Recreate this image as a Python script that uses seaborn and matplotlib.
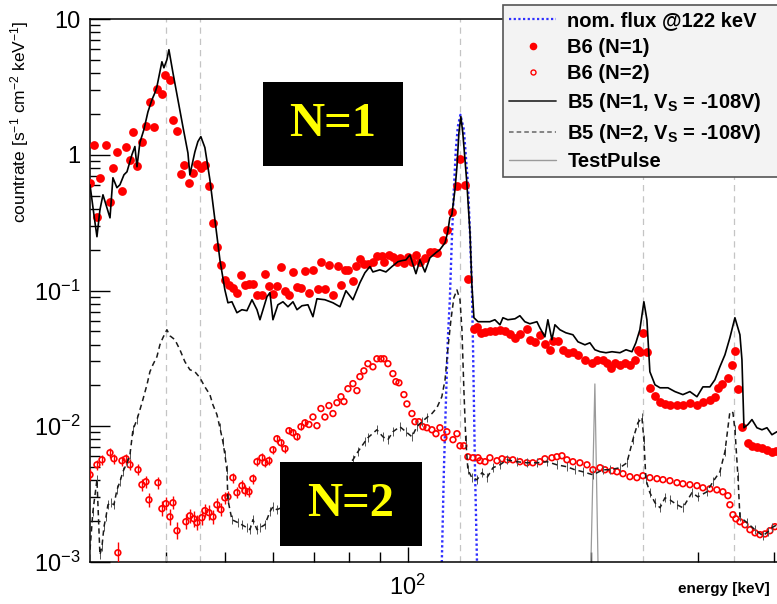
import numpy as np
import pandas as pd
import matplotlib
matplotlib.use("Agg")
import matplotlib.pyplot as plt
import seaborn as sns
from matplotlib.lines import Line2D
from matplotlib.patches import Rectangle
from matplotlib.ticker import FixedLocator, FixedFormatter, NullFormatter, LogLocator

# ---------------------------------------------------------------- data
# Nominal source flux at 122 keV
flux_energy = [113.2, 113.7, 114.6, 115.5, 116.3, 117.2, 118.1, 119.0, 119.9, 120.8,
               122.0, 123.6, 125.0, 125.5, 126.5, 127.4, 127.9, 128.9, 129.9, 130.4]
flux_rate = [0.0006, 0.001, 0.0048, 0.0157, 0.0434, 0.0855, 0.237, 0.552, 1.09, 1.61,
             1.97, 1.53, 0.775, 0.622, 0.266, 0.107, 0.0434, 0.005, 0.001, 0.0006]

# B6, single-pixel events (N=1)
b6_n1_energy = [30.0, 30.45, 30.8, 31.15, 31.87, 32.36, 32.72, 33.22, 33.86, 34.38,
                34.9, 35.3, 35.84, 36.52, 37.08, 37.64, 38.22, 38.65, 39.39, 39.84,
                40.6, 41.07, 41.7, 42.33, 42.81, 43.63, 44.29, 44.97, 45.65, 46.35,
                47.06, 47.78, 48.51, 49.25, 50.0, 50.77, 51.54, 52.33, 53.13, 53.94,
                54.77, 55.61, 56.46, 57.53, 58.18, 59.07, 59.98, 60.89, 61.82, 62.77,
                63.73, 64.71, 65.7, 66.7, 67.71, 68.74, 69.79, 71.12, 71.93, 73.03,
                74.14, 75.28, 76.72, 77.6, 78.78, 79.68, 81.2, 82.12, 83.37, 84.64,
                85.93, 87.58, 88.92, 90.62, 91.31, 93.07, 94.47, 95.92, 97.01, 98.49,
                100.0, 101.53, 103.08, 104.65, 106.65, 108.69, 110.35, 111.61, 114.1, 115.9,
                118.1, 120.4, 121.8, 124.1, 125.5, 128.4, 129.9, 131.9, 133.9, 136.4,
                139.0, 141.7, 144.4, 147.2, 150.0, 152.8, 156.9, 158.7, 161.7, 164.8,
                168.0, 171.2, 173.2, 176.5, 179.8, 183.3, 186.8, 190.4, 195.5, 200.7,
                204.6, 209.3, 212.5, 215.8, 219.1, 223.2, 227.5, 231.8, 236.2, 238.9,
                240.7, 243.5, 247.2, 250.0, 254.9, 259.8, 264.7, 269.7, 277.0, 283.3,
                290.9, 298.8, 305.6, 313.8, 319.8, 323.5, 328.4, 336.0, 341.1, 345.0,
                349.0, 354.3, 362.4, 368.0, 375.0, 382.2, 389.5, 396.9, 403.0]
b6_n1_rate = [0.622, 1.18, 0.349, 0.677, 1.18, 0.450, 0.802, 1.05, 0.543, 1.15,
              0.919, 1.48, 0.830, 1.25, 1.64, 2.46, 1.61, 3.06, 2.81, 3.88,
              3.57, 1.81, 1.50, 0.725, 0.844, 0.622, 0.737, 0.858, 0.802, 0.844,
              0.591, 0.316, 0.210, 0.155, 0.120, 0.110, 0.105, 0.0963, 0.131, 0.110,
              0.112, 0.112, 0.093, 0.093, 0.133, 0.108, 0.0946, 0.108, 0.150, 0.0996,
              0.093, 0.137, 0.107, 0.105, 0.140, 0.0963, 0.142, 0.103, 0.163, 0.103,
              0.155, 0.093, 0.152, 0.110, 0.142, 0.142, 0.118, 0.152, 0.171, 0.157,
              0.157, 0.163, 0.180, 0.180, 0.163, 0.183, 0.177, 0.163, 0.174, 0.160,
              0.177, 0.163, 0.183, 0.163, 0.174, 0.193, 0.193, 0.190, 0.237, 0.280,
              0.380, 0.591, 0.934, 0.601, 0.122, 0.0523, 0.0541, 0.0488, 0.0497, 0.0505,
              0.0505, 0.0514, 0.0505, 0.0480, 0.0449, 0.0480, 0.0523, 0.0434, 0.0419, 0.0472,
              0.0405, 0.0366, 0.0426, 0.0426, 0.0366, 0.0348, 0.0354, 0.0336, 0.0309, 0.0294,
              0.0309, 0.0309, 0.0294, 0.0270, 0.0294, 0.0284, 0.0294, 0.0284, 0.0309, 0.0366,
              0.0354, 0.0488, 0.0354, 0.0192, 0.0168, 0.0152, 0.0146, 0.0144, 0.0144, 0.0144,
              0.0149, 0.0144, 0.0152, 0.0157, 0.0165, 0.0192, 0.0206, 0.0228, 0.0284, 0.0360,
              0.0187, 0.00992, 0.00756, 0.0072, 0.00706, 0.0069, 0.00671, 0.00649, 0.0066]

# B6, two-pixel events (N=2)
b6_n2_energy = [30.0, 30.8, 31.39, 32.36, 32.85, 33.34, 33.86, 34.38, 34.9, 35.98,
                36.52, 37.08, 37.5, 38.8, 39.39, 39.99, 40.6, 41.07, 41.7, 43.13,
                43.79, 44.46, 44.97, 45.83, 46.35, 47.06, 47.78, 48.51, 49.25, 50.0,
                50.58, 51.54, 52.33, 53.33, 53.94, 54.77, 55.61, 56.46, 57.53, 58.18,
                59.07, 59.98, 60.89, 61.82, 62.77, 63.73, 64.71, 65.7, 66.7, 67.71,
                68.74, 69.79, 70.85, 71.93, 73.03, 74.14, 75.28, 76.43, 77.6, 78.49,
                79.68, 81.2, 82.43, 83.37, 84.64, 85.93, 87.58, 88.92, 90.28, 91.31,
                92.7, 94.47, 95.56, 96.65, 98.49, 99.62, 101.53, 102.69, 104.25, 105.85,
                107.45, 109.51, 111.19, 112.88, 114.6, 115.9, 118.6, 120.4, 121.8, 123.6,
                125.5, 127.9, 130.4, 131.4, 133.9, 136.4, 140.1, 142.8, 145.5, 148.8,
                152.8, 156.9, 160.5, 164.8, 168.0, 172.5, 175.8, 179.2, 182.6, 186.8,
                191.8, 197.0, 201.5, 207.0, 210.9, 216.6, 220.7, 225.8, 231.8, 238.0,
                243.5, 250.0, 256.8, 262.7, 269.7, 277.0, 283.3, 290.9, 298.8, 305.6,
                313.8, 322.2, 329.6, 336.0, 338.5, 342.4, 346.3, 351.6, 358.4, 365.2,
                372.2, 379.3, 386.6, 393.9, 401.4]
b6_n2_rate = [0.00439, 0.0052, 0.00566, 0.00638, 0.00576, 0.00117, 0.00557, 0.00576, 0.0052, 0.00478,
              0.00371, 0.0039, 0.00287, 0.00384, 0.00247, 0.00269, 0.00215, 0.00273, 0.0017, 0.00198,
              0.00219, 0.00208, 0.00195, 0.00212, 0.00239, 0.00231, 0.00215, 0.00264, 0.00243, 0.00297,
              0.00302, 0.00418, 0.00324, 0.00365, 0.00335, 0.00329, 0.00411, 0.00548, 0.00586, 0.00538,
              0.00557, 0.00671, 0.00809, 0.00756, 0.00683, 0.00927, 0.00896, 0.00837, 0.00992, 0.0106,
              0.0103, 0.0117, 0.0101, 0.0135, 0.0117, 0.0142, 0.0124, 0.0149, 0.0165, 0.0152,
              0.0189, 0.0206, 0.0183, 0.0232, 0.0256, 0.0289, 0.0274, 0.0314, 0.0314, 0.0314,
              0.0289, 0.0244, 0.0213, 0.0209, 0.0171, 0.0146, 0.0124, 0.0108, 0.0108, 0.00992,
              0.00975, 0.00942, 0.00881, 0.00975, 0.00823, 0.00911, 0.00796, 0.00881, 0.00718, 0.00718,
              0.00596, 0.00586, 0.00586, 0.00557, 0.00548, 0.00586, 0.00557, 0.00576, 0.00566, 0.00566,
              0.00548, 0.00538, 0.00538, 0.00548, 0.00576, 0.00586, 0.00596, 0.00606, 0.00566, 0.00548,
              0.00538, 0.0052, 0.00478, 0.00495, 0.00478, 0.0047, 0.00462, 0.00447, 0.00425, 0.00418,
              0.00432, 0.00418, 0.00411, 0.00404, 0.00397, 0.00384, 0.00377, 0.00371, 0.00365, 0.00352,
              0.00346, 0.0034, 0.00329, 0.00308, 0.00264, 0.00223, 0.00208, 0.00198, 0.00188, 0.00173,
              0.00164, 0.00159, 0.00161, 0.0017, 0.00182]
# relative uncertainties of the first (low-statistics) N=2 points
b6_n2_relerr = [0.10, 0.09, 0.09, 0.09, 0.09, 0.20, 0.09, 0.09, 0.10, 0.10,
                0.11, 0.11, 0.13, 0.11, 0.13, 0.12, 0.14, 0.12, 0.15, 0.14,
                0.13, 0.14, 0.14, 0.13, 0.12, 0.13, 0.13, 0.12, 0.12, 0.11,
                0.11, 0.09, 0.10, 0.10, 0.10, 0.10, 0.09, 0.08, 0.08, 0.08,
                0.08, 0.07, 0.07, 0.07, 0.07, 0.06, 0.06, 0.06, 0.06, 0.06]

# B5 at V_S = -108 V, single-pixel events (N=1)
b5_n1_energy = [30.0, 30.45, 30.8, 31.15, 31.51, 31.87, 32.36, 32.72, 33.22, 33.6,
                34.12, 34.51, 35.16, 35.56, 35.84, 36.24, 36.79, 37.36, 37.93, 38.36,
                38.65, 39.09, 39.39, 39.69, 40.14, 40.45, 41.07, 41.85, 42.65, 43.47,
                43.79, 44.63, 45.14, 45.65, 46.35, 47.24, 48.14, 49.07, 50.0, 50.58,
                51.35, 52.33, 53.33, 54.35, 55.4, 56.46, 57.1, 58.63, 59.3, 59.98,
                61.12, 62.3, 63.49, 64.71, 65.7, 66.95, 68.48, 69.79, 70.85, 73.03,
                75.28, 77.3, 79.08, 81.2, 83.37, 84.96, 86.59, 87.58, 89.93, 92.01,
                94.12, 96.29, 97.75, 99.24, 100.76, 103.08, 104.65, 106.65, 108.69, 111.19,
                112.88, 115.1, 116.3, 117.2, 118.1, 119.5, 120.4, 121.3, 122.2, 123.1,
                125.0, 126.5, 127.4, 128.4, 130.4, 133.9, 136.4, 139.0, 141.7, 143.3,
                146.0, 150.0, 152.8, 155.7, 158.7, 163.0, 164.8, 168.0, 169.9, 172.5,
                174.5, 177.8, 181.9, 186.8, 190.4, 195.5, 199.2, 203.0, 207.0, 211.7,
                216.6, 223.2, 228.4, 233.6, 237.1, 240.7, 244.4, 247.2, 250.0, 254.9,
                259.8, 267.7, 274.9, 283.3, 290.9, 298.8, 305.6, 313.8, 319.8, 325.9,
                332.2, 338.5, 345.0, 351.6, 354.3, 357.0, 362.4, 368.0, 375.0, 382.2,
                389.5, 396.9, 404.5]
b5_n1_rate = [0.601, 0.361, 0.249, 0.393, 0.507, 0.428, 0.343, 0.677, 0.572, 0.601,
              0.712, 0.749, 1.0, 1.15, 0.816, 1.23, 1.53, 2.07, 2.54, 2.86,
              3.17, 4.09, 4.84, 4.37, 5.01, 5.94, 4.02, 2.54, 1.61, 1.03,
              0.712, 1.05, 1.25, 1.36, 1.13, 0.655, 0.332, 0.168, 0.101, 0.0812,
              0.0826, 0.0686, 0.0722, 0.0710, 0.0855, 0.0722, 0.0609, 0.0899, 0.0963, 0.0609,
              0.0785, 0.0826, 0.0759, 0.0826, 0.0722, 0.0772, 0.0785, 0.0641, 0.0869, 0.0855,
              0.0812, 0.0759, 0.0996, 0.0855, 0.114, 0.135, 0.150, 0.137, 0.142, 0.137,
              0.150, 0.163, 0.166, 0.168, 0.183, 0.133, 0.168, 0.137, 0.174, 0.190,
              0.200, 0.225, 0.271, 0.343, 0.361, 0.552, 0.816, 1.45, 1.91, 1.45,
              0.622, 0.266, 0.110, 0.063, 0.0589, 0.0589, 0.0589, 0.0609, 0.0559, 0.063,
              0.0609, 0.0619, 0.0652, 0.0589, 0.0569, 0.0589, 0.0532, 0.0456, 0.0609, 0.0434,
              0.0559, 0.0514, 0.0488, 0.0472, 0.0419, 0.0398, 0.0412, 0.0366, 0.0354, 0.0348,
              0.0354, 0.0348, 0.0366, 0.0354, 0.0412, 0.0514, 0.0826, 0.0609, 0.0252, 0.0202,
              0.0192, 0.0192, 0.018, 0.0171, 0.018, 0.0165, 0.0195, 0.0195, 0.022, 0.0274,
              0.0336, 0.0449, 0.063, 0.0472, 0.0309, 0.00975, 0.0103, 0.0112, 0.00975, 0.00942,
              0.00975, 0.00866, 0.00911]

# B5 at V_S = -108 V, two-pixel events (N=2)
b5_n2_energy = [30.0, 30.33, 30.8, 31.15, 31.39, 31.63, 31.87, 32.11, 32.48, 32.85,
                33.22, 33.6, 33.98, 34.51, 34.9, 35.3, 35.84, 36.24, 36.65, 37.22,
                37.64, 38.07, 38.65, 39.09, 39.54, 40.14, 40.6, 41.38, 42.17, 42.97,
                43.79, 44.63, 45.48, 46.35, 47.24, 47.78, 48.51, 49.07, 49.63, 50.0,
                50.38, 50.58, 51.35, 52.53, 53.33, 54.35, 54.98, 55.61, 56.46, 57.1,
                58.18, 59.3, 59.98, 60.89, 66.45, 74.43, 81.2, 82.74, 84.96, 85.93,
                88.92, 90.96, 92.7, 94.47, 97.01, 99.24, 101.53, 103.46, 105.44, 107.45,
                109.51, 111.61, 113.7, 115.1, 116.3, 117.7, 119.0, 120.4, 121.8, 122.7,
                123.6, 124.5, 125.5, 127.4, 129.9, 132.4, 134.9, 138.0, 141.7, 145.5,
                151.1, 156.9, 163.0, 169.3, 175.8, 182.6, 188.2, 194.0, 201.5, 209.3,
                214.9, 223.2, 229.2, 234.4, 238.9, 242.6, 244.4, 246.3, 250.0, 254.9,
                259.8, 264.7, 269.7, 277.0, 283.3, 293.2, 299.9, 310.3, 317.4, 325.9,
                332.2, 338.5, 342.4, 345.0, 349.0, 351.6, 361.1, 372.2, 383.6, 390.9,
                396.9, 404.5]
b5_n2_rate = [0.00123, 0.00235, 0.00404, 0.00113, 0.0013, 0.00182, 0.00215, 0.00264, 0.00273, 0.00264,
              0.0034, 0.0039, 0.00462, 0.00538, 0.00617, 0.00942, 0.0112, 0.0132, 0.0157, 0.0202,
              0.0252, 0.0284, 0.0325, 0.0398, 0.0449, 0.0514, 0.0464, 0.0434, 0.0366, 0.0299,
              0.0261, 0.0252, 0.0228, 0.0195, 0.0171, 0.0144, 0.0122, 0.00975, 0.00769, 0.00617,
              0.00478, 0.00287, 0.00205, 0.00195, 0.00188, 0.00179, 0.00173, 0.00205, 0.00173, 0.00179,
              0.00188, 0.00235, 0.00255, 0.00243, 0.00287, 0.00404, 0.00566, 0.00649, 0.00769, 0.00823,
              0.00942, 0.00837, 0.00796, 0.00911, 0.00992, 0.00911, 0.00837, 0.00992, 0.0108, 0.0116,
              0.0124, 0.0137, 0.0165, 0.022, 0.0366, 0.0609, 0.0884, 0.101, 0.0855, 0.0514,
              0.0187, 0.00796, 0.00478, 0.00418, 0.00404, 0.00455, 0.00418, 0.00495, 0.0052, 0.00566,
              0.00548, 0.00538, 0.00538, 0.00548, 0.0052, 0.00503, 0.00478, 0.00462, 0.00439, 0.00478,
              0.00478, 0.00495, 0.00538, 0.00796, 0.0106, 0.0116, 0.00796, 0.00404, 0.00324, 0.00273,
              0.00251, 0.00297, 0.00287, 0.00264, 0.00251, 0.00324, 0.00302, 0.00329, 0.0039, 0.00462,
              0.00649, 0.0128, 0.0126, 0.00942, 0.00425, 0.00215, 0.00195, 0.00173, 0.00156, 0.00167,
              0.00179, 0.00188]
b5_n2_relerr = 0.08

# Test pulse
pulse_energy = [198.5, 200.0, 203.0, 205.4, 207.0]
pulse_rate = [0.0003, 0.001, 0.0205, 0.001, 0.0003]

# Eu-152 / Sm X-ray line positions
line_energy = [40.0, 45.5, 122.0, 243.5, 344.0]

y_ticks = [1e-3, 1e-2, 1e-1, 1, 10]
y_ticklabels = ["$10^{-3}$", "$10^{-2}$", "$10^{-1}$", "1", "10"]
x_ticks = [100]
x_ticklabels = ["$10^{2}$"]
x_minor = [40, 50, 60, 70, 80, 90, 200, 300, 400]

# ---------------------------------------------------------------- style
sns.set_theme(style="white")
plt.rcParams.update({
    "font.family": ["Liberation Sans", "DejaVu Sans"],
    "mathtext.fontset": "custom",
    "mathtext.rm": "Liberation Sans",
    "mathtext.it": "Liberation Sans:italic",
    "mathtext.bf": "Liberation Sans:bold",
    "axes.edgecolor": "black",
    "axes.linewidth": 1.1,
    "text.color": "black",
    "xtick.color": "black",
    "ytick.color": "black",
})

W, H = 777, 604
fig = plt.figure(figsize=(W / 100, H / 100), dpi=100)
ax = fig.add_axes([90 / W, 42 / H, 690.5 / W, 543 / H])
ax.set_xscale("log")
ax.set_yscale("log")

for e in line_energy:
    ax.axvline(e, color="#c4c4c4", lw=0.9, ls=(0, (5, 4)), zorder=1)

sns.lineplot(x=flux_energy, y=flux_rate, sort=False, estimator=None, ax=ax,
             color="#2f2fff", lw=1.7, linestyle=(0, (1, 1.1)), zorder=2)

sns.lineplot(x=pulse_energy, y=pulse_rate, sort=False, estimator=None, ax=ax,
             color="#9a9a9a", lw=0.9, zorder=2)

# B6 N=1 filled dots
sns.scatterplot(x=b6_n1_energy, y=b6_n1_rate, ax=ax, color="#ff0000", s=40,
                linewidth=0, marker="o", zorder=4)

# B6 N=2 open circles with error bars
e2 = np.array(b6_n2_energy)
r2 = np.array(b6_n2_rate)
n_err = len(b6_n2_relerr)
rel = np.array(b6_n2_relerr)
lo = r2[:n_err] - r2[:n_err] / (1 + rel)
hi = r2[:n_err] * rel
ax.errorbar(e2[:n_err], r2[:n_err], yerr=[lo, hi], fmt="none",
            ecolor="#ff0000", elinewidth=1.0, capsize=0, zorder=4)
sns.scatterplot(x=b6_n2_energy, y=b6_n2_rate, ax=ax, color="#ff0000", s=17,
                marker="o", zorder=5)
coll = ax.collections[-1]
coll.set_facecolor("none")
coll.set_edgecolor("#ff0000")
coll.set_linewidth(1.2)

# B5 spectra
sns.lineplot(x=b5_n1_energy, y=b5_n1_rate, sort=False, estimator=None, ax=ax,
             color="black", lw=1.2, zorder=6)

e5 = np.array(b5_n2_energy)
r5 = np.array(b5_n2_rate)
low = r5 < 0.012
ax.errorbar(e5[low], r5[low],
            yerr=[r5[low] - r5[low] / (1 + b5_n2_relerr), r5[low] * b5_n2_relerr],
            fmt="none", ecolor="#555555", elinewidth=0.7, capsize=0, zorder=5)
sns.lineplot(x=b5_n2_energy, y=b5_n2_rate, sort=False, estimator=None, ax=ax,
             color="#1a1a1a", lw=1.1, linestyle=(0, (3.5, 2.5)), zorder=6)

ax.set_xlim(30, 410)
ax.set_ylim(1e-3, 10)
if ax.get_legend() is not None:
    ax.get_legend().remove()
ax.set_xlabel("")
ax.set_ylabel("")

# ---------------------------------------------------------------- axes
ax.yaxis.set_major_locator(FixedLocator(y_ticks))
ax.yaxis.set_major_formatter(FixedFormatter(y_ticklabels))
ax.yaxis.set_minor_locator(LogLocator(base=10, subs=np.arange(2, 10)))
ax.yaxis.set_minor_formatter(NullFormatter())
ax.xaxis.set_major_locator(FixedLocator(x_ticks))
ax.xaxis.set_major_formatter(FixedFormatter(x_ticklabels))
ax.xaxis.set_minor_locator(FixedLocator(x_minor))
ax.xaxis.set_minor_formatter(NullFormatter())

ax.tick_params(which="both", direction="in", top=False, right=False,
               bottom=True, left=True)
ax.tick_params(axis="y", which="major", length=14.5, width=1.0, pad=7, labelsize=17)
ax.tick_params(axis="y", which="minor", length=7.2, width=1.0)
ax.tick_params(axis="x", which="major", length=10.5, width=1.0, pad=9, labelsize=17)
ax.tick_params(axis="x", which="minor", length=7.2, width=1.0)

fig.text(20 / W, 1 - 20 / H, r"countrate [s$^{-1}$ cm$^{-2}$ keV$^{-1}$]",
         rotation=90, ha="center", va="top", fontsize=12.5)
fig.text(770 / W, 1 - 589 / H, "energy [keV]", ha="right", va="center",
         fontsize=11, fontweight="bold")

# ---------------------------------------------------------------- annotations
for (x0, y0, x1, y1, label) in [(263, 82, 403, 166, "N=1"), (280, 462, 422, 546, "N=2")]:
    fig.patches.append(Rectangle((x0 / W, 1 - y1 / H), (x1 - x0) / W, (y1 - y0) / H,
                                 transform=fig.transFigure, facecolor="black",
                                 edgecolor="none", zorder=10))
    fig.text((x0 + x1) / 2 / W, 1 - (y0 + y1) / 2 / H, label, ha="center", va="center",
             color="#ffff00", fontsize=35, fontweight="bold",
             family=["Liberation Serif", "DejaVu Serif"], zorder=11)

handles = [
    Line2D([], [], color="#2f2fff", lw=1.6, ls=(0, (1, 1.1))),
    Line2D([], [], color="#ff0000", marker="o", ls="none", markersize=5.5, mew=0),
    Line2D([], [], color="#ff0000", marker="o", ls="none", markersize=3.6,
           mfc="none", mec="#ff0000", mew=1.0),
    Line2D([], [], color="#333333", lw=1.3),
    Line2D([], [], color="#666666", lw=1.1, ls=(0, (3, 2))),
    Line2D([], [], color="#9a9a9a", lw=1.0),
]
labels = [
    "nom. flux @122 keV",
    "B6 (N=1)",
    "B6 (N=2)",
    r"B5 (N=1, $\mathbf{V_S}$ = -108V)",
    r"B5 (N=2, $\mathbf{V_S}$ = -108V)",
    "TestPulse",
]
leg = fig.legend(handles, labels, loc="upper left",
                 bbox_to_anchor=(503 / W, 1 - 183 / H, 280 / W, 178 / H),
                 mode="expand", borderaxespad=0, frameon=True, fancybox=False,
                 framealpha=1, facecolor="#f3f3f3", edgecolor="#555555",
                 prop={"weight": "bold", "size": 14.5}, borderpad=0.3,
                 labelspacing=0.38, handlelength=2.35, handletextpad=0.55)
leg.get_frame().set_linewidth(1.2)
leg.set_zorder(12)

fig.savefig("out.png", dpi=100)
